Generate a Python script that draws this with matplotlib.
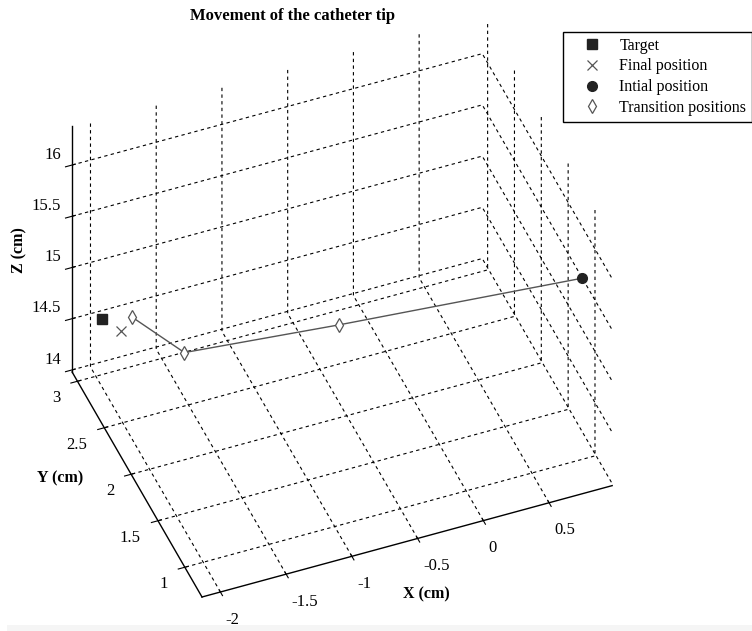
import matplotlib
matplotlib.use('Agg')
import matplotlib.pyplot as plt
from matplotlib.patches import Rectangle
from mpl_toolkits.mplot3d import proj3d

plt.rcParams['font.family'] = 'serif'
plt.rcParams['font.serif'] = ['Liberation Serif', 'DejaVu Serif']
plt.rcParams['axes.unicode_minus'] = False

# posiciones de la punta del cateter (cm)
target = [-2.0, 2.89, 14.64]
final_pos = [-1.9, 2.77, 14.6]
initial_pos = [0.95, 1.17, 15.57]
trans_x = [-0.5, -1.6, -1.85]
trans_y = [2.14, 2.33, 2.70]
trans_z = [14.74, 14.68, 14.78]

xlim = (-2.14, 0.98)
ylim = (0.68, 3.1)
zlim = (13.98, 16.38)
xticks = [-2, -1.5, -1, -0.5, 0, 0.5]
yticks = [1, 1.5, 2, 2.5, 3]
zticks = [14, 14.5, 15, 15.5, 16]

fig = plt.figure(figsize=(7.52, 6.31), dpi=100)
fig.patches.append(Rectangle((7 / 752, 0), 1, 6 / 631, transform=fig.transFigure,
                             facecolor='#f5f5f5', edgecolor='none', zorder=-1))
ax = fig.add_axes([0.1, 0.05, 0.8, 0.8], projection='3d', proj_type='ortho')
ax.set_facecolor((1, 1, 1, 0))
ax.view_init(elev=43.3, azim=-111.6)
ax.set_box_aspect((1.315, 1.052, 1.007))

# trayectoria: inicial -> transiciones
ax.plot([initial_pos[0]] + trans_x, [initial_pos[1]] + trans_y, [initial_pos[2]] + trans_z,
        color='#555555', lw=1.0)
ax.plot([target[0]], [target[1]], [target[2]], 's', color='#222222', ms=7, ls='none', label='Target')
ax.plot([final_pos[0]], [final_pos[1]], [final_pos[2]], 'x', color='#555555', ms=7, mew=0.9, ls='none',
        label='Final position')
ax.plot([initial_pos[0]], [initial_pos[1]], [initial_pos[2]], 'o', color='#222222', ms=7, ls='none',
        label='Intial position')
ax.plot(trans_x, trans_y, trans_z, 'd', mfc='white', mec='#555555', ms=7.5, mew=0.9, ls='none',
        label='Transition positions')

ax.set_xlim(*xlim)
ax.set_ylim(*ylim)
ax.set_zlim(*zlim)
ax.set_xticks(xticks)
ax.set_yticks(yticks)
ax.set_zticks(zticks)
ax.set_xticklabels(['-2', '-1.5', '-1', '-0.5', '0', '0.5'], ha='left')
ax.set_yticklabels(['1', '1.5', '2', '2.5', '3'], va='center_baseline', ha='right')
ax.set_zticklabels(['14', '14.5', '15', '15.5', '16'], va='bottom', ha='right')
ax.tick_params(labelsize=12, pad=2)
ax.zaxis.set_tick_params(pad=-3)

for a in (ax.xaxis, ax.yaxis, ax.zaxis):
    a.set_pane_color((1, 1, 1, 0))
    a.pane.set_edgecolor('none')
    a.line.set_color('k')
    a.line.set_linewidth(1.0)
    a._axinfo['grid'].update(color='k', linestyle=(0, (3, 3)), linewidth=0.8)

# ajustar la caja 3D a su sitio en la figura (eje X de punta a punta)
fig.canvas.draw()
H = fig.bbox.height
W = fig.bbox.width

def pix(p):
    xs, ys, _ = proj3d.proj_transform(p[0], p[1], p[2], ax.get_proj())
    return ax.transData.transform((xs, ys))

pa = pix((xlim[0], ylim[0], zlim[0]))
pb = pix((xlim[1], ylim[0], zlim[0]))
ta = (202, H - 597)
tb = (612, H - 485)
k = ((tb[0] - ta[0]) ** 2 + (tb[1] - ta[1]) ** 2) ** 0.5 / ((pb[0] - pa[0]) ** 2 + (pb[1] - pa[1]) ** 2) ** 0.5
bb = ax.get_position().transformed(fig.transFigure)
cx, cy = (bb.x0 + bb.x1) / 2, (bb.y0 + bb.y1) / 2
ncx = ta[0] - k * (pa[0] - cx)
ncy = ta[1] - k * (pa[1] - cy)
w = bb.width * k
ax.set_position([(ncx - w / 2) / W, (ncy - w / 2) / H, w / W, w / H])

fig.text(292 / 752, 1 - 16 / 631, 'Movement of the catheter tip', ha='center', va='center',
         fontsize=12, fontweight='bold')
fig.text(19 / 752, 1 - 250 / 631, 'Z (cm)', rotation=90, ha='center', va='center',
         fontsize=11.5, fontweight='bold')
fig.text(60 / 752, 1 - 478 / 631, 'Y (cm)', ha='center', va='center', fontsize=11.5, fontweight='bold')
fig.text(426 / 752, 1 - 594 / 631, 'X (cm)', ha='center', va='center', fontsize=11.5, fontweight='bold')

fig.legend(loc='upper right', bbox_to_anchor=(1.0, 1 - 32 / 631), fontsize=11.5, frameon=True,
           fancybox=False, edgecolor='k', framealpha=1, borderaxespad=0, handletextpad=0.2,
           handlelength=3.0, labelspacing=0.3, borderpad=0.35)

fig.savefig('out.png', dpi=100)
